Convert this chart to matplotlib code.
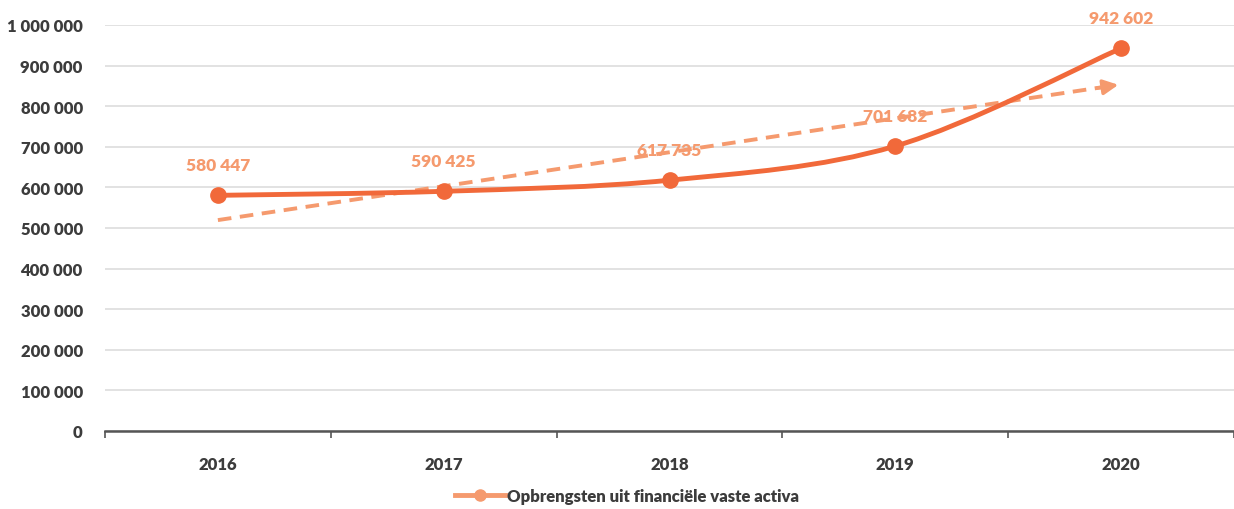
import numpy as np
import matplotlib.pyplot as plt
from matplotlib.path import Path
from matplotlib.patches import PathPatch
from matplotlib.ticker import FuncFormatter, FixedLocator

years = ['2016', '2017', '2018', '2019', '2020']
values = [580447, 590425, 617735, 701682, 942602]
series_name = 'Opbrengsten uit financiële vaste activa'

line_color = '#F1693A'
label_color = '#F59A6E'
text_color = '#3C3C3C'

plt.rcParams['font.family'] = ['Lato', 'DejaVu Sans']
plt.rcParams['font.weight'] = 'bold'

fig = plt.figure(figsize=(12.34, 5.10), dpi=100)
ax = fig.add_axes([105 / 1234, 1 - 432 / 510, 1 - 105 / 1234, (432 - 26) / 510])

x = np.arange(len(years))
y = np.array(values, dtype=float)

# smoothed line (Bezier through the points, like a spreadsheet "smooth line")
verts = [(x[0], y[0])]
codes = [Path.MOVETO]
for i in range(len(x) - 1):
    p0 = np.array([x[max(i - 1, 0)], y[max(i - 1, 0)]])
    p1 = np.array([x[i], y[i]])
    p2 = np.array([x[i + 1], y[i + 1]])
    p3 = np.array([x[min(i + 2, len(x) - 1)], y[min(i + 2, len(x) - 1)]])
    c1 = p1 + (p2 - p0) / 6
    c2 = p2 - (p3 - p1) / 6
    verts += [tuple(c1), tuple(c2), tuple(p2)]
    codes += [Path.CURVE4] * 3
ax.add_patch(PathPatch(Path(verts, codes), facecolor='none', edgecolor=line_color,
                       lw=3.5, zorder=3, capstyle='round'))
ax.plot(x, y, linestyle='none', marker='o', markersize=11, color=line_color, zorder=4)
# legend proxy
ax.plot([], [], color='#F59A6E', lw=3.5, marker='o', markersize=8, label=series_name)

# linear trend line with arrow
coef = np.polyfit(x, y, 1)
t0, t1 = np.polyval(coef, x[0]), np.polyval(coef, x[-1])
ax.plot([x[0], x[-1] - 0.06], [t0, t1 - coef[0] * 0.06], linestyle=(0, (3.5, 2.2)),
        color=label_color, lw=2.8, zorder=2)
ax.annotate('', xy=(x[-1], t1), xytext=(x[-1] - 0.12, t1 - coef[0] * 0.12),
            arrowprops=dict(arrowstyle='-|>,head_length=0.9,head_width=0.45',
                            color=label_color, lw=2.5), zorder=2)

for xi, yi in zip(x, y):
    ax.text(xi, yi + 55000, f'{int(yi):,}'.replace(',', ' '), ha='center', va='bottom',
            color=label_color, fontsize=12.5, fontweight='heavy', zorder=5, clip_on=False)

ax.set_xlim(-0.5, len(years) - 0.5)
ax.set_ylim(0, 1000000)
ax.set_yticks(np.arange(0, 1000001, 100000))
ax.yaxis.set_major_formatter(FuncFormatter(lambda v, p: f'{int(v):,}'.replace(',', ' ')))
ax.set_xticks(x)
ax.set_xticklabels(years)
ax.xaxis.set_minor_locator(FixedLocator(np.arange(-0.5, len(years), 1.0)))
ax.tick_params(axis='x', which='major', length=0, pad=18, labelsize=12, labelcolor=text_color)
ax.tick_params(axis='x', which='minor', length=5, width=1.2, color='#555555', direction='out')
ax.tick_params(axis='y', length=0, pad=16, labelsize=12, labelcolor=text_color)
for lbl in ax.get_xticklabels() + ax.get_yticklabels():
    lbl.set_fontweight('heavy')

ax.grid(axis='y', color='#DDDDDD', lw=1.2)
ax.set_axisbelow(True)
for s in ['top', 'right', 'left']:
    ax.spines[s].set_visible(False)
ax.spines['bottom'].set_color('#555555')
ax.spines['bottom'].set_linewidth(1.8)
ax.set_facecolor('white')

leg = fig.legend(loc='center', bbox_to_anchor=(627 / 1234, 1 - 497 / 510), frameon=False,
                 fontsize=12, handlelength=3, handletextpad=0.1, labelcolor=text_color)
for t in leg.get_texts():
    t.set_fontweight('heavy')

fig.savefig('out.png', dpi=100)
